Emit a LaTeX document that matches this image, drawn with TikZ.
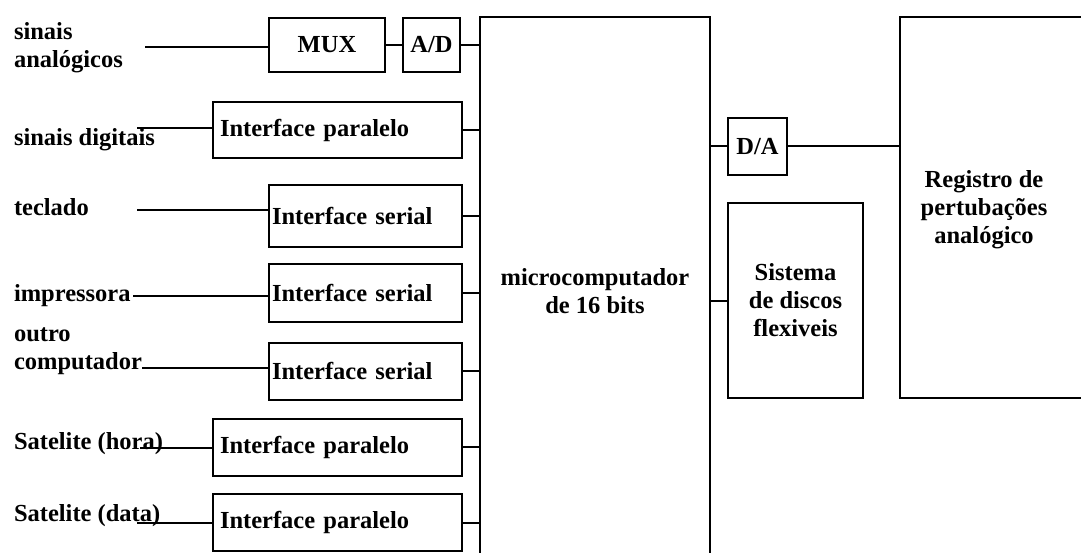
\documentclass[tikz,border=0pt]{standalone}
\usepackage{fontspec}
\setmainfont{Liberation Serif}
\usetikzlibrary{positioning}
\tikzset{
  every picture/.style={line width=2pt},
  txt/.style={font=\fontsize{24.5}{28}\selectfont\bfseries, inner sep=0pt},
  blk/.style={draw, txt, align=center},
  iface/.style={draw, txt, align=left, minimum height=57pt},
  ifpar/.style={iface, text width=235pt, inner xsep=7pt},
  ifser/.style={iface, text width=187pt, inner xsep=3pt},
}

\begin{document}
\begin{tikzpicture}[x=1pt, y=-1pt]
  \clip (0,0) rectangle (1081,553);
  \fill[white] (0,0) rectangle (1081,553);
  \node[blk, minimum width=230pt, minimum height=549pt] (micro) at (595,291.5) {microcomputador\\de 16 bits};
  \node[blk, minimum width=116pt, minimum height=54pt] (mux) at (327,45) {MUX};
  \node[blk, minimum width=57pt, minimum height=54pt] (ad) at (431.5,45) {A/D};
  \node[ifpar, minimum height=56pt] (par1) at (337.5,130) {Interface paralelo};
  \node[ifser, minimum height=62pt] (ser1) at (365.5,216) {Interface serial};
  \node[ifser] (ser2) at (365.5,293) {Interface serial};
  \node[ifser] (ser3) at (365.5,371) {Interface serial};
  \node[ifpar] (par2) at (337.5,447) {Interface paralelo};
  \node[ifpar] (par3) at (337.5,522.5) {Interface paralelo};
  \node[blk, minimum width=59pt, minimum height=57pt] (da) at (757.5,146.5) {D/A};
  \node[blk, minimum width=135pt, minimum height=195pt] (sis) at (795.5,300.5) {Sistema\\de discos\\flexiveis};
  \node[blk, minimum width=220pt, minimum height=381pt] (reg) at (1010,207.5) {};
  \node[txt, align=center] (regtxt) at (984,210) {Registro de\\pertubações\\analógico};
  % entradas
  \node[txt, anchor=west, align=left] (sa) at (13,47.5) {sinais\\analógicos};
  \node[txt, anchor=west] (sd) at (13,140) {sinais digitais};
  \node[txt, anchor=west] (tec) at (13,207) {teclado};
  \node[txt, anchor=west] (imp) at (13,296) {impressora};
  \node[txt, anchor=west, align=left] (oc) at (13,351) {outro\\computador};
  \node[txt, anchor=west] (sh) at (13,444) {Satelite (hora)};
  \node[txt, anchor=west] (sdt) at (13,516) {Satelite (data)};
  \coordinate (c1) at (145,47);
  \coordinate (c2) at (137,128);
  \coordinate (c3) at (137,210);
  \coordinate (c4) at (133,296);
  \coordinate (c5) at (142,368);
  \coordinate (c6) at (140,448);
  \coordinate (c7) at (137,523);
  \draw (c1) -- (c1 -| mux.west);
  \draw (c2) -- (c2 -| par1.west);
  \draw (c3) -- (c3 -| ser1.west);
  \draw (c4) -- (c4 -| ser2.west);
  \draw (c5) -- (c5 -| ser3.west);
  \draw (c6) -- (c6 -| par2.west);
  \draw (c7) -- (c7 -| par3.west);
  \draw (mux) -- (ad);
  \foreach \n in {ad,par1,ser1,ser2,ser3,par2,par3}
    \draw (\n.east) -- (\n.east -| micro.west);
  \draw (da.west -| micro.east) -- (da.west);
  \draw (da) -- (da -| reg.west);
  \draw (sis.west -| micro.east) -- (sis.west);
\end{tikzpicture}
\end{document}
